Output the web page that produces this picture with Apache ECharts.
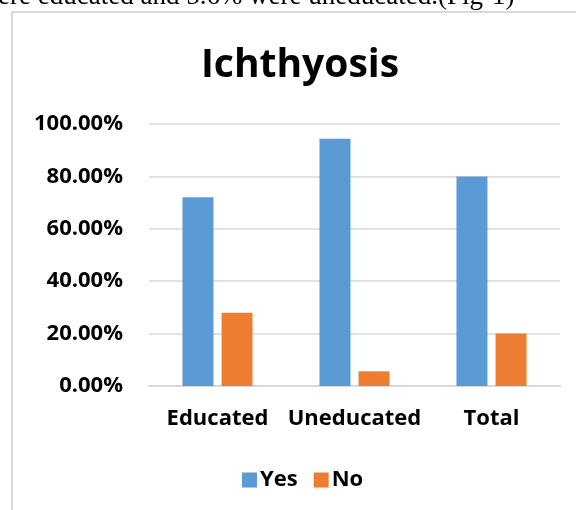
<!DOCTYPE html>
<html>
<head>
<meta charset="utf-8">
<script src="https://cdn.jsdelivr.net/npm/echarts@6/dist/echarts.min.js"></script>
<style>
  html, body { margin: 0; padding: 0; background: #fff; }
  #chart { width: 576px; height: 510px; }
</style>
</head>
<body>
<div id="chart"></div>
<script>
  // data
  var categories = ['Educated', 'Uneducated', 'Total'];
  var yesValues = [72, 94.4, 80];
  var noValues = [28, 5.6, 20];
  var seriesNames = ['Yes', 'No'];

  var myChart = echarts.init(document.getElementById('chart'));

  var option = {
    animation: false,
    backgroundColor: '#fff',
    textStyle: { fontFamily: 'Open Sans' },
    graphic: [
      // cut-off sentence above the figure
      {
        type: 'text', left: -2, top: -17,
        style: {
          text: 'ere educated and 5.6% were uneducated.(Fig-1)',
          font: '27px "Liberation Serif"', fill: '#000'
        }
      },
      // chart frame
      {
        type: 'rect', shape: { x: 12, y: 12, width: 620, height: 560 },
        style: { fill: null, stroke: '#d9d9d9', lineWidth: 2 }
      },
      {
        type: 'text', x: 300, y: 46,
        style: {
          text: 'Ichthyosis', textAlign: 'center',
          font: 'bold 39px "Open Sans"', fill: '#000'
        }
      }
    ],
    legend: {
      data: seriesNames,
      left: 237, top: 464,
      icon: 'rect', itemWidth: 15, itemHeight: 15, itemGap: 16,
      textStyle: { fontSize: 22, fontWeight: 'bold', color: '#000', padding: [0, 0, 0, -2] }
    },
    grid: { left: 149, right: 16, top: 124, bottom: 124 },
    xAxis: {
      type: 'category',
      data: categories,
      axisLine: { lineStyle: { color: '#d9d9d9', width: 2 } },
      axisTick: { show: false },
      axisLabel: {
        fontSize: 22, fontWeight: 'bold', color: '#000', margin: 22,
        interval: 0, hideOverlap: false
      }
    },
    yAxis: {
      type: 'value',
      min: 0, max: 100, interval: 20,
      axisLine: { show: false },
      axisTick: { show: false },
      splitLine: { lineStyle: { color: '#d9d9d9', width: 1.5 } },
      axisLabel: {
        fontSize: 22, fontWeight: 'bold', color: '#000', margin: 26,
        formatter: function (v) { return v.toFixed(2) + '%'; }
      }
    },
    series: [{
      name: 'Yes',
      type: 'bar',
      data: yesValues,
      barWidth: 31,
      barGap: '26%',
      itemStyle: { color: '#5B9BD5' }
    }, {
      name: 'No',
      type: 'bar',
      data: noValues,
      barWidth: 31,
      itemStyle: { color: '#ED7D31' }
    }]
  };

  myChart.setOption(option);
</script>
</body>
</html>
